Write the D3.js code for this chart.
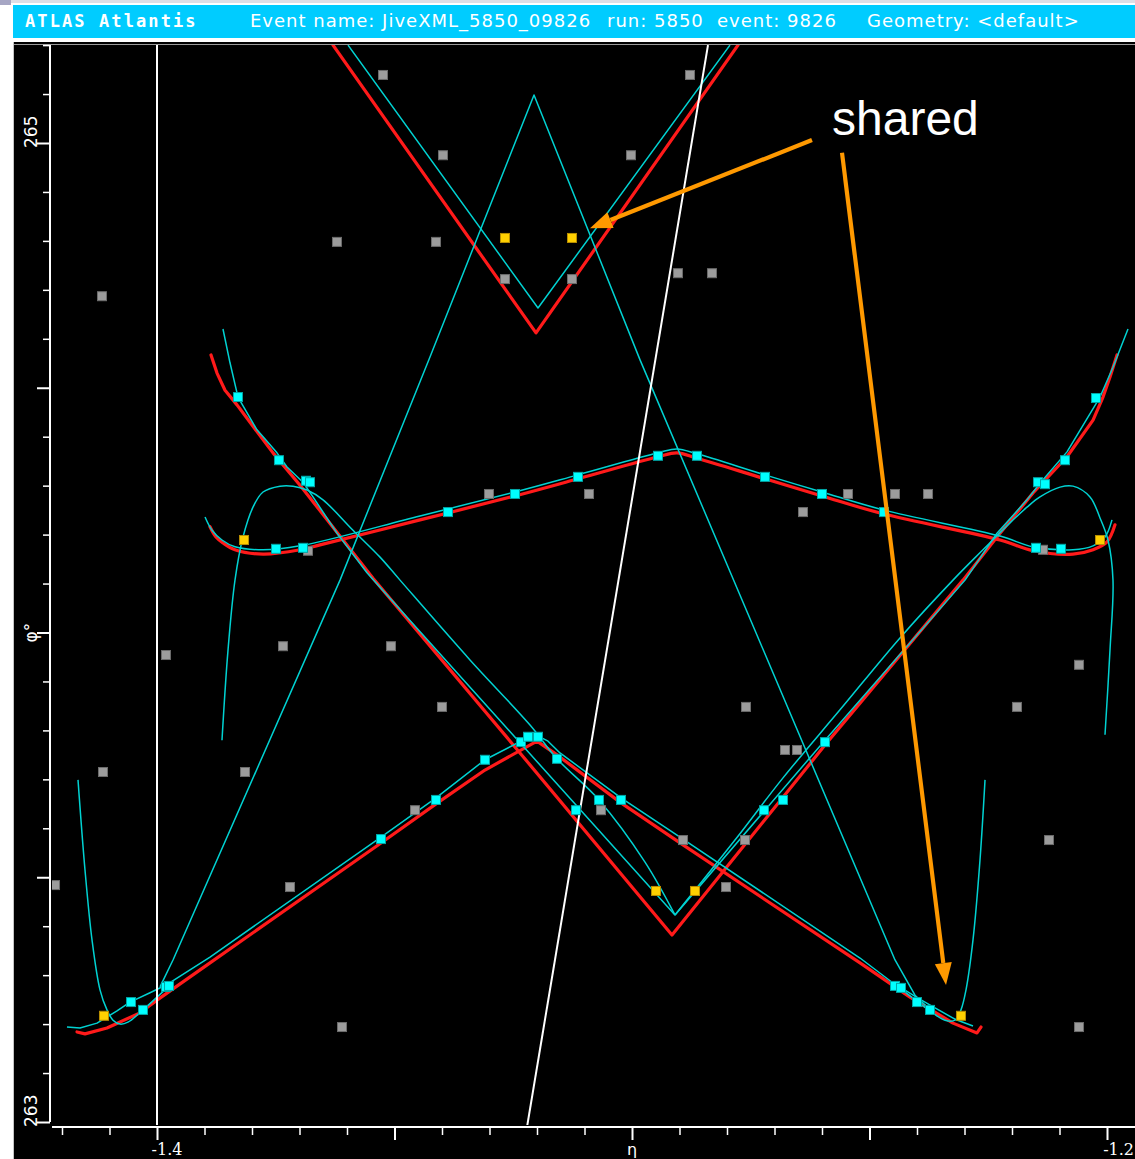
<!DOCTYPE html>
<html>
<head>
<meta charset="utf-8">
<script src="https://cdn.jsdelivr.net/npm/d3@7"></script>
<style>
  html, body { margin: 0; padding: 0; background: #ffffff; }
  svg { display: block; }
</style>
</head>
<body>
<script>
// ---------- axes: ticks and labels ----------
const etaRange = [-1.4221, -1.1941];          // visible eta window
const phiRange = [262.99, 265.2];             // visible phi window (degrees)
const etaMajorTicks = [-1.4, -1.35, -1.3, -1.25, -1.2];
const etaMinorTicks = [-1.42, -1.41, -1.39, -1.38, -1.37, -1.36, -1.34, -1.33, -1.32, -1.31,
                       -1.29, -1.28, -1.27, -1.26, -1.24, -1.23, -1.22, -1.21];
const etaLabelTicks = [-1.4, -1.3, -1.2];
const etaLabels = ["-1.4", "η", "-1.2"];
const phiMajorTicks = [263, 263.5, 264, 264.5, 265];
const phiMinorTicks = [263.1, 263.2, 263.3, 263.4, 263.6, 263.7, 263.8, 263.9, 264.1, 264.2,
                       264.3, 264.4, 264.6, 264.7, 264.8, 264.9, 265.1, 265.2];
const phiLabelTicks = [263, 264, 265];
const phiLabels = ["263", "φ°", "265"];

// ---------- event header ----------
const headerTitle = "ATLAS Atlantis";
const headerFields = ["Event name: JiveXML_5850_09826", "run: 5850", "event: 9826", "Geometry: <default>"];

// ---------- track curves in the V-plot, [eta, phi] ----------
const redTop = [[-1.36295, 265.200], [-1.32021, 264.612], [-1.27768, 265.200]];
const cyanTop = [[-1.35979, 265.200], [-1.31979, 264.663], [-1.27937, 265.200]];

const cyanLambda = [[-1.39937, 263.276], [-1.39663, 263.331], [-1.36147, 264.107], [-1.34253, 264.563],
  [-1.32063, 265.098], [-1.29831, 264.557], [-1.24463, 263.331], [-1.24042, 263.259], [-1.23726, 263.229]];

const redV = [[-1.38863, 264.567], [-1.38737, 264.530], [-1.38568, 264.495], [-1.38316, 264.465],
  [-1.37558, 264.367], [-1.36989, 264.301], [-1.35453, 264.111], [-1.32358, 263.754], [-1.29158, 263.382],
  [-1.25937, 263.770], [-1.23031, 264.107], [-1.22316, 264.195], [-1.21558, 264.285], [-1.20842, 264.359],
  [-1.20294, 264.434], [-1.20084, 264.481], [-1.19937, 264.522], [-1.19789, 264.567]];

const cyanV = [[-1.38611, 264.620], [-1.38463, 264.551], [-1.38295, 264.481], [-1.37895, 264.414],
  [-1.37474, 264.367], [-1.37263, 264.338], [-1.36926, 264.307], [-1.36716, 264.277], [-1.36211, 264.203],
  [-1.35579, 264.122], [-1.29095, 263.423], [-1.25937, 263.780], [-1.22989, 264.107], [-1.22316, 264.203],
  [-1.21684, 264.271], [-1.21411, 264.305], [-1.20842, 264.369], [-1.20147, 264.481], [-1.19874, 264.542],
  [-1.19558, 264.620]];

const redWide = [[-1.38884, 264.216], [-1.38758, 264.195], [-1.38611, 264.183], [-1.38358, 264.169],
  [-1.37768, 264.160], [-1.36989, 264.169], [-1.36568, 264.179], [-1.34463, 264.230], [-1.32463, 264.279],
  [-1.31137, 264.314], [-1.29453, 264.359], [-1.29053, 264.367], [-1.28632, 264.356], [-1.27200, 264.314],
  [-1.26000, 264.279], [-1.24695, 264.242], [-1.22253, 264.189], [-1.21558, 264.167], [-1.20716, 264.160],
  [-1.20294, 264.169], [-1.20000, 264.185], [-1.19832, 264.220]];

const cyanWide = [[-1.38989, 264.236], [-1.38842, 264.209], [-1.38632, 264.189], [-1.38358, 264.175],
  [-1.37768, 264.169], [-1.36989, 264.177], [-1.34463, 264.238], [-1.32463, 264.287], [-1.31137, 264.322],
  [-1.29453, 264.367], [-1.29053, 264.375], [-1.28632, 264.365], [-1.27200, 264.322], [-1.26000, 264.287],
  [-1.24695, 264.250], [-1.22253, 264.197], [-1.21558, 264.175], [-1.20716, 264.169], [-1.20294, 264.177],
  [-1.20042, 264.195], [-1.19895, 264.230]];

const cyanLoopLeft = [[-1.38632, 263.780], [-1.38505, 263.964], [-1.38358, 264.107], [-1.38189, 264.195],
  [-1.37979, 264.256], [-1.37768, 264.287], [-1.37411, 264.299], [-1.37137, 264.299], [-1.36842, 264.291],
  [-1.36505, 264.271], [-1.35874, 264.209], [-1.35305, 264.154], [-1.34884, 264.107], [-1.33411, 263.944],
  [-1.32147, 263.811], [-1.31579, 263.742], [-1.30695, 263.658], [-1.29726, 263.531], [-1.29095, 263.423]];

const cyanLoopRight = [[-1.20042, 263.791], [-1.19937, 263.964], [-1.19874, 264.107], [-1.19979, 264.189],
  [-1.20147, 264.234], [-1.20358, 264.277], [-1.20716, 264.299], [-1.20989, 264.297], [-1.21411, 264.277],
  [-1.21684, 264.256], [-1.22042, 264.224], [-1.22611, 264.169], [-1.23242, 264.107], [-1.24358, 263.989],
  [-1.25621, 263.842], [-1.26821, 263.703], [-1.27832, 263.576], [-1.29095, 263.423]];

const redLow = [[-1.41684, 263.184], [-1.41516, 263.180], [-1.41053, 263.192], [-1.40358, 263.223],
  [-1.40000, 263.249], [-1.38884, 263.325], [-1.35284, 263.570], [-1.34126, 263.650], [-1.33095, 263.719],
  [-1.32000, 263.778], [-1.31579, 263.750], [-1.30232, 263.652], [-1.28926, 263.566], [-1.25200, 263.325],
  [-1.24147, 263.255], [-1.23242, 263.202], [-1.22737, 263.182], [-1.22653, 263.194]];

const cyanLow = [[-1.41895, 263.194], [-1.41621, 263.192], [-1.41263, 263.202], [-1.40842, 263.227],
  [-1.40568, 263.245], [-1.40147, 263.264], [-1.39768, 263.282], [-1.38884, 263.337], [-1.35284, 263.582],
  [-1.34126, 263.662], [-1.33095, 263.740], [-1.32337, 263.778], [-1.32063, 263.793], [-1.31768, 263.778],
  [-1.31516, 263.754], [-1.30232, 263.662], [-1.28926, 263.578], [-1.25200, 263.335], [-1.24505, 263.284],
  [-1.23979, 263.253], [-1.23621, 263.233], [-1.23200, 263.210], [-1.22821, 263.196]];

const cyanHookLeft = [[-1.41663, 263.699], [-1.41516, 263.515], [-1.41368, 263.372], [-1.41200, 263.270],
  [-1.41053, 263.229], [-1.40926, 263.208], [-1.40779, 263.200], [-1.40611, 263.204], [-1.40295, 263.229],
  [-1.39768, 263.276]];

const cyanHookRight = [[-1.22568, 263.699], [-1.22674, 263.535], [-1.22821, 263.372], [-1.22968, 263.270],
  [-1.23074, 263.229], [-1.23200, 263.208], [-1.23411, 263.208], [-1.23726, 263.227], [-1.24337, 263.272]];

// straight white guide lines
const whiteLines = [
  [[-1.4000, 262.99], [-1.4000, 265.20]],
  [[-1.3221, 262.99], [-1.2840, 265.20]]
];

// ---------- hits, [eta, phi] ----------
const trackHits = [[-1.38295, 264.481], [-1.37432, 264.352], [-1.36863, 264.310], [-1.36779, 264.307],
  [-1.21453, 264.307], [-1.21305, 264.303], [-1.20884, 264.352], [-1.20232, 264.479],
  [-1.37495, 264.171], [-1.36926, 264.173], [-1.33874, 264.246], [-1.32463, 264.283], [-1.31137, 264.318],
  [-1.29453, 264.361], [-1.28632, 264.361], [-1.27200, 264.318], [-1.26000, 264.283], [-1.24695, 264.246],
  [-1.21495, 264.173], [-1.20968, 264.171],
  [-1.40547, 263.245], [-1.40295, 263.229], [-1.39811, 263.276], [-1.39747, 263.278], [-1.35284, 263.578],
  [-1.34126, 263.658], [-1.33095, 263.740], [-1.32337, 263.776], [-1.32189, 263.787], [-1.31979, 263.787],
  [-1.31579, 263.742], [-1.31179, 263.637], [-1.30695, 263.658], [-1.30232, 263.658], [-1.27221, 263.637],
  [-1.26821, 263.658], [-1.25937, 263.776], [-1.24463, 263.278], [-1.24337, 263.274], [-1.24000, 263.245],
  [-1.23726, 263.229]];

const sharedHits = [[-1.32674, 264.806], [-1.31263, 264.806], [-1.29495, 263.472], [-1.28674, 263.472],
  [-1.38168, 264.189], [-1.20147, 264.189], [-1.41116, 263.217], [-1.23074, 263.217]];

const otherHits = [[-1.35242, 265.139], [-1.28779, 265.139], [-1.33979, 264.975], [-1.30021, 264.975],
  [-1.36211, 264.798], [-1.34126, 264.798], [-1.32674, 264.722], [-1.31263, 264.722], [-1.29032, 264.734],
  [-1.28316, 264.734], [-1.41158, 264.687], [-1.33011, 264.283], [-1.30905, 264.283], [-1.26400, 264.246],
  [-1.25453, 264.283], [-1.24463, 264.283], [-1.23768, 264.283], [-1.36821, 264.167], [-1.21347, 264.169],
  [-1.39811, 263.954], [-1.37347, 263.972], [-1.35074, 263.972], [-1.34000, 263.848], [-1.27600, 263.848],
  [-1.21895, 263.848], [-1.20589, 263.934], [-1.41137, 263.715], [-1.38147, 263.715], [-1.26779, 263.760],
  [-1.26526, 263.760], [-1.34568, 263.637], [-1.30653, 263.637], [-1.28926, 263.576], [-1.27621, 263.576],
  [-1.21221, 263.576], [-1.42147, 263.484], [-1.37200, 263.480], [-1.28021, 263.480], [-1.36105, 263.194],
  [-1.20589, 263.194]];

// ---------- annotation ----------
const noteText = "shared";
const noteAnchor = [-1.25789, 265.016];
const noteArrows = [
  [[-1.26211, 265.006], [-1.30884, 264.826]],
  [[-1.25579, 264.980], [-1.23389, 263.280]]
];

// ================= drawing =================
const W = 1135, H = 1159;
const svg = d3.select("body").append("svg").attr("width", W).attr("height", H);

const x = d3.scaleLinear().domain([-1.4, -1.2]).range([157, 1107]);
const y = d3.scaleLinear().domain([263, 265]).range([1122, 143]);

// window chrome
svg.append("rect").attr("x", 0).attr("y", 0).attr("width", W).attr("height", 3).attr("fill", "#dedee6");
svg.append("rect").attr("x", 0).attr("y", 0).attr("width", 11).attr("height", 5).attr("fill", "#a6a6c4");
svg.append("rect").attr("x", 13).attr("y", 5).attr("width", W - 13).attr("height", 33).attr("fill", "#00ccff");

svg.append("text").text(headerTitle)
  .attr("x", 25).attr("y", 27)
  .attr("font-family", "DejaVu Sans Mono, monospace").attr("font-size", 17)
  .attr("font-weight", "bold")
  .attr("letter-spacing", 2.1).attr("fill", "#ffffff");

const headerX = [250, 607, 717, 867];
svg.selectAll("text.hdr").data(headerFields).join("text").attr("class", "hdr")
  .text(d => d)
  .attr("x", (d, i) => headerX[i]).attr("y", 27)
  .attr("font-family", "DejaVu Sans, sans-serif").attr("font-size", 18)
  .attr("letter-spacing", 1).attr("fill", "#ffffff");

// plot panel
svg.append("rect").attr("x", 13).attr("y", 42).attr("width", W - 13).attr("height", H - 42).attr("fill", "#000000");
svg.append("line").attr("x1", 13).attr("x2", W).attr("y1", 44.5).attr("y2", 44.5)
  .attr("stroke", "#9a9a9a").attr("stroke-width", 1);
svg.append("line").attr("x1", 13.5).attr("x2", 13.5).attr("y1", 42).attr("y2", H)
  .attr("stroke", "#c4c4c4").attr("stroke-width", 1);

// clip for data
const x0 = x(etaRange[0]), x1 = x(etaRange[1]);
const yTop = y(phiRange[1]), yBot = y(phiRange[0]);
svg.append("clipPath").attr("id", "plotClip").append("rect")
  .attr("x", x0).attr("y", yTop).attr("width", x1 - x0).attr("height", yBot - yTop - 2);

const plot = svg.append("g").attr("clip-path", "url(#plotClip)");

const straight = d3.line().x(d => x(d[0])).y(d => y(d[1]));
const smooth = d3.line().x(d => x(d[0])).y(d => y(d[1])).curve(d3.curveCatmullRom.alpha(0.5));

const RED = "#ff1a1a", CYAN = "#00d2d2";

const redCurves = [
  { pts: redTop, gen: straight },
  { pts: redV, gen: straight },
  { pts: redWide, gen: smooth },
  { pts: redLow, gen: straight }
];
const cyanCurves = [
  { pts: cyanTop, gen: straight },
  { pts: cyanLambda, gen: straight },
  { pts: cyanV, gen: straight },
  { pts: cyanWide, gen: smooth },
  { pts: cyanLoopLeft, gen: smooth },
  { pts: cyanLoopRight, gen: smooth },
  { pts: cyanLow, gen: straight },
  { pts: cyanHookLeft, gen: smooth },
  { pts: cyanHookRight, gen: smooth }
];

plot.selectAll("path.red").data(redCurves).join("path").attr("class", "red")
  .attr("d", d => d.gen(d.pts))
  .attr("fill", "none").attr("stroke", RED).attr("stroke-width", 3.2)
  .attr("stroke-linejoin", "round").attr("stroke-linecap", "round");

plot.selectAll("path.cyan").data(cyanCurves).join("path").attr("class", "cyan")
  .attr("d", d => d.gen(d.pts))
  .attr("fill", "none").attr("stroke", CYAN).attr("stroke-width", 1.5)
  .attr("stroke-linejoin", "round");

plot.selectAll("path.white").data(whiteLines).join("path").attr("class", "white")
  .attr("d", d => straight(d))
  .attr("fill", "none").attr("stroke", "#ffffff").attr("stroke-width", 2);

// hits
const S = 9;
function drawHits(data, cls, fill, stroke) {
  plot.selectAll("rect." + cls).data(data).join("rect").attr("class", cls)
    .attr("x", d => x(d[0]) - S / 2).attr("y", d => y(d[1]) - S / 2)
    .attr("width", S).attr("height", S)
    .attr("fill", fill).attr("stroke", stroke).attr("stroke-width", 1);
}
drawHits(otherHits, "other", "#9c9c9c", "#6c6c6c");
drawHits(sharedHits, "shared", "#ffd000", "#b88e00");
drawHits(trackHits, "trk", "#00ffff", "#00a6a6");

// axes
const axes = svg.append("g");
function styleAxis(g, w) {
  g.select(".domain").remove();
  g.selectAll(".tick line").attr("stroke", "#ffffff").attr("stroke-width", w);
  g.selectAll(".tick text").remove();
}
axes.append("g").attr("transform", "translate(50,0)")
  .call(d3.axisLeft(y).tickValues(phiMinorTicks).tickSize(7).tickFormat(""))
  .call(g => styleAxis(g, 1.5));
axes.append("g").attr("transform", "translate(50,0)")
  .call(d3.axisLeft(y).tickValues(phiMajorTicks).tickSize(13).tickFormat(""))
  .call(g => styleAxis(g, 2));
axes.append("g").attr("transform", "translate(0,1127)")
  .call(d3.axisBottom(x).tickValues(etaMinorTicks).tickSize(8).tickFormat(""))
  .call(g => styleAxis(g, 1.5));
axes.append("g").attr("transform", "translate(0,1127)")
  .call(d3.axisBottom(x).tickValues(etaMajorTicks).tickSize(13).tickFormat(""))
  .call(g => styleAxis(g, 2));

axes.append("line").attr("x1", 50).attr("x2", 50).attr("y1", yTop).attr("y2", y(263))
  .attr("stroke", "#ffffff").attr("stroke-width", 2);
axes.append("line").attr("x1", x0).attr("x2", W).attr("y1", 1127).attr("y2", 1127)
  .attr("stroke", "#ffffff").attr("stroke-width", 2);

axes.selectAll("text.ylab").data(phiLabelTicks).join("text").attr("class", "ylab")
  .text((d, i) => phiLabels[i])
  .attr("transform", (d, i) => `translate(37,${y(d) + (i === 1 ? 10 : 5)}) rotate(-90)`)
  .attr("text-anchor", "start")
  .attr("font-family", "DejaVu Sans, sans-serif").attr("font-size", 17).attr("fill", "#ffffff");

// bottom labels: the last one is kept inside the window's right edge
axes.selectAll("text.xlab").data(etaLabelTicks).join("text").attr("class", "xlab")
  .text((d, i) => etaLabels[i])
  .attr("x", (d, i) => i === 2 ? W - 1 : x(d) + (i === 1 ? 0 : 10))
  .attr("y", 1155)
  .attr("text-anchor", (d, i) => i === 2 ? "end" : "middle")
  .attr("font-family", (d, i) => i === 1 ? "DejaVu Sans, sans-serif" : "DejaVu Serif, serif")
  .attr("font-size", 16).attr("fill", "#ffffff");

// annotation
const ORANGE = "#ff9900";
const note = svg.append("g");
note.append("text").text(noteText)
  .attr("x", x(noteAnchor[0])).attr("y", y(noteAnchor[1]))
  .attr("font-family", "Liberation Sans, Arial, sans-serif").attr("font-size", 48)
  .attr("fill", "#ffffff");

noteArrows.forEach(a => {
  const sx = x(a[0][0]), sy = y(a[0][1]), tx = x(a[1][0]), ty = y(a[1][1]);
  const ang = Math.atan2(ty - sy, tx - sx);
  const len = 22, half = 8.5;
  const bx = tx - len * Math.cos(ang), by = ty - len * Math.sin(ang);
  note.append("line").attr("x1", sx).attr("y1", sy).attr("x2", bx).attr("y2", by)
    .attr("stroke", ORANGE).attr("stroke-width", 4.2);
  const px = -Math.sin(ang) * half, py = Math.cos(ang) * half;
  note.append("path")
    .attr("d", `M${tx},${ty}L${bx + px},${by + py}L${bx - px},${by - py}Z`)
    .attr("fill", ORANGE);
});
</script>
</body>
</html>
